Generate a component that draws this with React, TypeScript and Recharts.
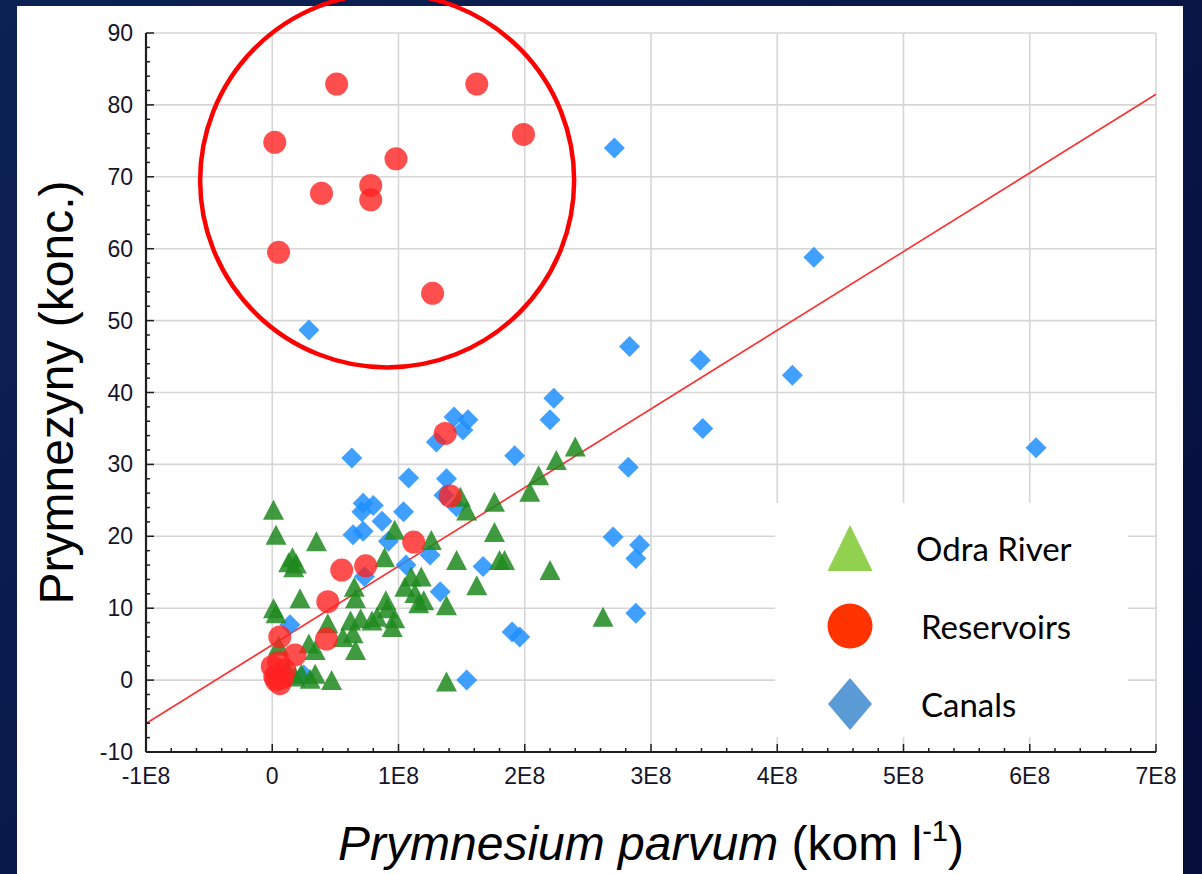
import React from 'react';
import {
  ScatterChart,
  Scatter,
  XAxis,
  YAxis,
  CartesianGrid,
  ReferenceLine,
  ReferenceDot,
  Legend,
} from 'recharts';

type Pt = { x: number; y: number };

// P. parvum cell density (kom/l) vs prymnesin concentration, by sampling site type
const odraRiver: Pt[] = [
  { x: 0.01e8, y: 23.7 }, { x: 0.03e8, y: 20.2 }, { x: 0.35e8, y: 19.3 }, { x: 0.16e8, y: 17.1 },
  { x: 0.13e8, y: 16.4 }, { x: 0.19e8, y: 16.2 }, { x: 0.17e8, y: 15.7 }, { x: 0.22e8, y: 11.4 },
  { x: 0.01e8, y: 10.0 }, { x: 0.03e8, y: 9.3 }, { x: 0.65e8, y: 13.0 }, { x: 0.66e8, y: 11.4 },
  { x: 0.89e8, y: 17.1 }, { x: 0.9e8, y: 11.1 }, { x: 0.7e8, y: 8.6 }, { x: 0.79e8, y: 8.3 },
  { x: 0.97e8, y: 8.6 }, { x: 0.95e8, y: 7.4 }, { x: 0.64e8, y: 6.5 }, { x: 0.56e8, y: 6.0 },
  { x: 0.66e8, y: 4.2 }, { x: 0.44e8, y: 7.9 }, { x: 0.29e8, y: 5.1 }, { x: 0.34e8, y: 4.2 },
  { x: 0.34e8, y: 0.9 }, { x: 0.23e8, y: 0.9 }, { x: 0.47e8, y: 0.0 }, { x: 0.18e8, y: 0.5 },
  { x: 0.3e8, y: 0.2 }, { x: 0.05e8, y: 4.8 }, { x: 0.12e8, y: 1.5 }, { x: 1.1e8, y: 14.4 },
  { x: 1.13e8, y: 12.1 }, { x: 1.16e8, y: 10.7 }, { x: 1.05e8, y: 13.0 }, { x: 0.97e8, y: 20.9 },
  { x: 1.26e8, y: 19.5 }, { x: 1.49e8, y: 25.5 }, { x: 1.54e8, y: 23.6 }, { x: 1.76e8, y: 24.8 },
  { x: 2.04e8, y: 26.2 }, { x: 2.11e8, y: 28.5 }, { x: 2.25e8, y: 30.6 }, { x: 2.4e8, y: 32.5 },
  { x: 1.76e8, y: 20.6 }, { x: 1.46e8, y: 16.7 }, { x: 1.8e8, y: 16.7 }, { x: 1.84e8, y: 16.7 },
  { x: 1.62e8, y: 13.2 }, { x: 1.38e8, y: 10.4 }, { x: 1.18e8, y: 14.4 }, { x: 1.2e8, y: 11.1 },
  { x: 2.2e8, y: 15.3 }, { x: 2.62e8, y: 8.8 }, { x: 1.38e8, y: -0.2 }, { x: 0.83e8, y: 8.8 },
  { x: 0.62e8, y: 8.3 }, { x: 0.91e8, y: 10.0 },
];

const reservoirs: Pt[] = [
  { x: 0.02e8, y: 74.8 }, { x: 0.51e8, y: 82.9 }, { x: 1.62e8, y: 82.9 }, { x: 1.99e8, y: 75.9 },
  { x: 0.98e8, y: 72.5 }, { x: 0.39e8, y: 67.7 }, { x: 0.78e8, y: 68.8 }, { x: 0.78e8, y: 66.8 },
  { x: 0.05e8, y: 59.5 }, { x: 1.27e8, y: 53.8 }, { x: 1.37e8, y: 34.3 }, { x: 1.41e8, y: 25.6 },
  { x: 1.12e8, y: 19.2 }, { x: 0.74e8, y: 15.9 }, { x: 0.55e8, y: 15.3 }, { x: 0.44e8, y: 10.9 },
  { x: 0.43e8, y: 5.7 }, { x: 0.06e8, y: 6.0 }, { x: 0.18e8, y: 3.5 }, { x: 0.05e8, y: 2.5 },
  { x: 0.02e8, y: 0.5 }, { x: 0.06e8, y: -0.5 }, { x: 0.0, y: 1.9 }, { x: 0.1e8, y: 1.4 },
  { x: 0.03e8, y: 0.0 }, { x: 0.08e8, y: 0.3 },
];

const canals: Pt[] = [
  { x: 2.71e8, y: 74.0 }, { x: 4.29e8, y: 58.8 }, { x: 0.29e8, y: 48.7 }, { x: 2.83e8, y: 46.4 },
  { x: 3.39e8, y: 44.5 }, { x: 4.12e8, y: 42.4 }, { x: 2.23e8, y: 39.2 }, { x: 2.2e8, y: 36.2 },
  { x: 1.44e8, y: 36.6 }, { x: 1.55e8, y: 36.2 }, { x: 1.51e8, y: 34.8 }, { x: 1.3e8, y: 33.1 },
  { x: 3.41e8, y: 35.0 }, { x: 6.05e8, y: 32.3 }, { x: 0.63e8, y: 30.9 }, { x: 1.92e8, y: 31.2 },
  { x: 2.82e8, y: 29.6 }, { x: 1.08e8, y: 28.1 }, { x: 1.38e8, y: 28.0 }, { x: 1.36e8, y: 25.7 },
  { x: 1.46e8, y: 24.1 }, { x: 0.72e8, y: 24.6 }, { x: 0.8e8, y: 24.3 }, { x: 0.71e8, y: 23.4 },
  { x: 1.04e8, y: 23.4 }, { x: 0.87e8, y: 22.1 }, { x: 0.64e8, y: 20.2 }, { x: 0.72e8, y: 20.7 },
  { x: 0.92e8, y: 19.3 }, { x: 2.7e8, y: 19.9 }, { x: 2.91e8, y: 18.8 }, { x: 2.88e8, y: 16.9 },
  { x: 1.25e8, y: 17.4 }, { x: 1.06e8, y: 16.0 }, { x: 1.67e8, y: 15.8 }, { x: 0.73e8, y: 14.4 },
  { x: 1.33e8, y: 12.3 }, { x: 2.88e8, y: 9.3 }, { x: 1.9e8, y: 6.7 }, { x: 1.96e8, y: 6.0 },
  { x: 0.14e8, y: 7.7 }, { x: 0.25e8, y: 0.7 }, { x: 1.54e8, y: 0.0 },
];

const xMajorTicks = [-1e8, 0, 1e8, 2e8, 3e8, 4e8, 5e8, 6e8, 7e8];
const yMajorTicks = [-10, 0, 10, 20, 30, 40, 50, 60, 70, 80, 90];

// least-squares line across the whole x range
const fitIntercept = 4.9;
const fitSlope = 1.094e-7;

// ring around the high-toxin reservoir group
const ringCenter = { x: 0.91e8, y: 69.5 };

const legendItems = [
  { name: 'Odra River', color: '#92d050', shape: 'triangle' },
  { name: 'Reservoirs', color: '#ff3300', shape: 'circle' },
  { name: 'Canals', color: '#5b9bd5', shape: 'diamond' },
];

const axisColor = '#1e1e1e';
const tickFont = '"Liberation Sans", Arial, sans-serif';

// four minor steps between every pair of major ticks
const withMinor = (majors: number[]) => {
  const out: number[] = [];
  for (let i = 0; i < majors.length - 1; i++) {
    const step = (majors[i + 1] - majors[i]) / 5;
    for (let k = 0; k < 5; k++) out.push(majors[i] + k * step);
  }
  out.push(majors[majors.length - 1]);
  return out;
};
const xTicks = withMinor(xMajorTicks);
const yTicks = withMinor(yMajorTicks);

const fmtX = (v: number) => (v === 0 ? '0' : `${Math.round(v / 1e8)}E8`);

const BottomTick = ({ x, y, payload }: any) => {
  const major = xMajorTicks.includes(payload.value);
  return (
    <g>
      <line x1={x} x2={x} y1={y} y2={y - (major ? 8 : 4)} stroke={axisColor} strokeWidth={1.5} />
      {major && (
        <text x={x} y={y + 24} textAnchor="middle" dominantBaseline="central" fontSize={23} fill="#14142a" fontFamily={tickFont}>
          {fmtX(payload.value)}
        </text>
      )}
    </g>
  );
};

const TopTick = ({ x, y, payload }: any) => {
  const major = xMajorTicks.includes(payload.value);
  return <line x1={x} x2={x} y1={y} y2={y + (major ? 8 : 4)} stroke={axisColor} strokeWidth={1.5} />;
};

const LeftTick = ({ x, y, payload }: any) => {
  const major = yMajorTicks.includes(payload.value);
  return (
    <g>
      <line x1={x} x2={x + (major ? 8 : 4)} y1={y} y2={y} stroke={axisColor} strokeWidth={1.5} />
      {major && (
        <text x={x - 13} y={y} textAnchor="end" dominantBaseline="central" fontSize={23} fill="#14142a" fontFamily={tickFont}>
          {payload.value}
        </text>
      )}
    </g>
  );
};

const RightTick = ({ x, y, payload }: any) => {
  const major = yMajorTicks.includes(payload.value);
  return <line x1={x} x2={x - (major ? 8 : 4)} y1={y} y2={y} stroke={axisColor} strokeWidth={1.5} />;
};

const Triangle = ({ cx, cy }: any) => (
  <polygon points={`${cx},${cy - 10} ${cx - 10.5},${cy + 10} ${cx + 10.5},${cy + 10}`} fill="#1e8a1e" fillOpacity={0.85} />
);
const Circle = ({ cx, cy }: any) => <circle cx={cx} cy={cy} r={11.5} fill="#ff2222" fillOpacity={0.8} />;
const Diamond = ({ cx, cy }: any) => (
  <polygon points={`${cx},${cy - 10.5} ${cx + 10.5},${cy} ${cx},${cy + 10.5} ${cx - 10.5},${cy}`} fill="#1e8fff" fillOpacity={0.85} />
);

const XTitle = ({ viewBox }: any) => (
  <text
    x={viewBox.x + viewBox.width / 2}
    y={viewBox.y + 108}
    textAnchor="middle"
    fontSize={48}
    fill="#000"
    fontFamily={tickFont}
  >
    <tspan fontStyle="italic">Prymnesium parvum</tspan>
    <tspan> (kom l</tspan>
    <tspan fontSize={29} dy={-19}>-1</tspan>
    <tspan dy={19}>)</tspan>
  </text>
);

const YTitle = ({ viewBox }: any) => {
  const cx = 73;
  const cy = viewBox.y + viewBox.height / 2;
  return (
    <text
      x={cx}
      y={cy}
      transform={`rotate(-90, ${cx}, ${cy})`}
      textAnchor="middle"
      fontSize={48}
      fill="#000"
      fontFamily={tickFont}
    >
      Prymnezyny (konc.)
    </text>
  );
};

const LegendBox = () => (
  <div style={{ width: 353, height: 234, background: '#fff' }}>
    <svg width={353} height={234}>
      {legendItems.map((item, i) => {
        const cy = 45 + i * 78;
        let icon: React.ReactNode;
        if (item.shape === 'triangle') {
          icon = <polygon points={`75,${cy - 23} 52.5,${cy + 23} 97.5,${cy + 23}`} fill={item.color} />;
        } else if (item.shape === 'circle') {
          icon = <circle cx={75} cy={cy} r={22.5} fill={item.color} />;
        } else {
          icon = <polygon points={`75,${cy - 26} 97,${cy} 75,${cy + 26} 53,${cy}`} fill={item.color} />;
        }
        return (
          <g key={item.name}>
            {icon}
            <text x={i === 0 ? 141 : 146} y={cy} dominantBaseline="central" fontSize={33} fill="#000" fontFamily='Lato, "Open Sans", sans-serif'>
              {item.name}
            </text>
          </g>
        );
      })}
    </svg>
  </div>
);

export default function App() {
  return (
    <div
      style={{
        position: 'absolute',
        left: 0,
        top: 0,
        width: 1202,
        height: 874,
        overflow: 'hidden',
        background: 'linear-gradient(135deg, #0c2254 0%, #081848 50%, #050d3a 100%)',
      }}
    >
      <div style={{ position: 'absolute', left: 17, top: 6, width: 1166, height: 868, background: '#fff' }} />
      <div style={{ position: 'absolute', left: 0, top: 0 }}>
        <ScatterChart width={1202} height={874} margin={{ top: 33, right: 46, bottom: 12, left: 0 }}>
          <CartesianGrid
            stroke="#d6d6d6"
            strokeWidth={1.6}
            verticalValues={xMajorTicks}
            horizontalValues={yMajorTicks}
          />
          <XAxis
            type="number"
            dataKey="x"
            domain={[-1e8, 7e8]}
            ticks={xTicks}
            interval={0}
            height={110}
            allowDataOverflow
            tickSize={0}
            tickMargin={0}
            tickLine={false}
            tick={<BottomTick />}
            axisLine={{ stroke: axisColor, strokeWidth: 2.2 }}
            label={{ content: <XTitle /> }}
          />
          <XAxis
            xAxisId="top"
            orientation="top"
            type="number"
            domain={[-1e8, 7e8]}
            ticks={xTicks}
            interval={0}
            height={0}
            allowDataOverflow
            tickSize={0}
            tickMargin={0}
            tickLine={false}
            tick={<TopTick />}
            axisLine={{ stroke: axisColor, strokeWidth: 2.2 }}
          />
          <YAxis
            type="number"
            dataKey="y"
            domain={[-10, 90]}
            ticks={yTicks}
            interval={0}
            width={146}
            allowDataOverflow
            tickSize={0}
            tickMargin={0}
            tickLine={false}
            tick={<LeftTick />}
            axisLine={{ stroke: axisColor, strokeWidth: 2.2 }}
            label={{ content: <YTitle /> }}
          />
          <YAxis
            yAxisId="right"
            orientation="right"
            type="number"
            domain={[-10, 90]}
            ticks={yTicks}
            interval={0}
            width={0}
            allowDataOverflow
            tickSize={0}
            tickMargin={0}
            tickLine={false}
            tick={<RightTick />}
            axisLine={{ stroke: axisColor, strokeWidth: 2.2 }}
          />
          <Legend
            layout="vertical"
            align="center"
            verticalAlign="middle"
            width={353}
            height={234}
            wrapperStyle={{ left: 775, top: 503 }}
            content={<LegendBox />}
          />
          <Scatter name="Canals" data={canals} shape={<Diamond />} isAnimationActive={false} />
          <Scatter name="Odra River" data={odraRiver} shape={<Triangle />} isAnimationActive={false} />
          <Scatter name="Reservoirs" data={reservoirs} shape={<Circle />} isAnimationActive={false} />
          <ReferenceLine
            segment={[
              { x: -1e8, y: fitIntercept + fitSlope * -1e8 },
              { x: 7e8, y: fitIntercept + fitSlope * 7e8 },
            ]}
            stroke="#ff3030"
            strokeWidth={1.6}
          />
          <ReferenceDot
            x={ringCenter.x}
            y={ringCenter.y}
            r={187}
            fill="none"
            stroke="#ff0000"
            strokeWidth={4.5}
          />
        </ScatterChart>
      </div>
    </div>
  );
}
